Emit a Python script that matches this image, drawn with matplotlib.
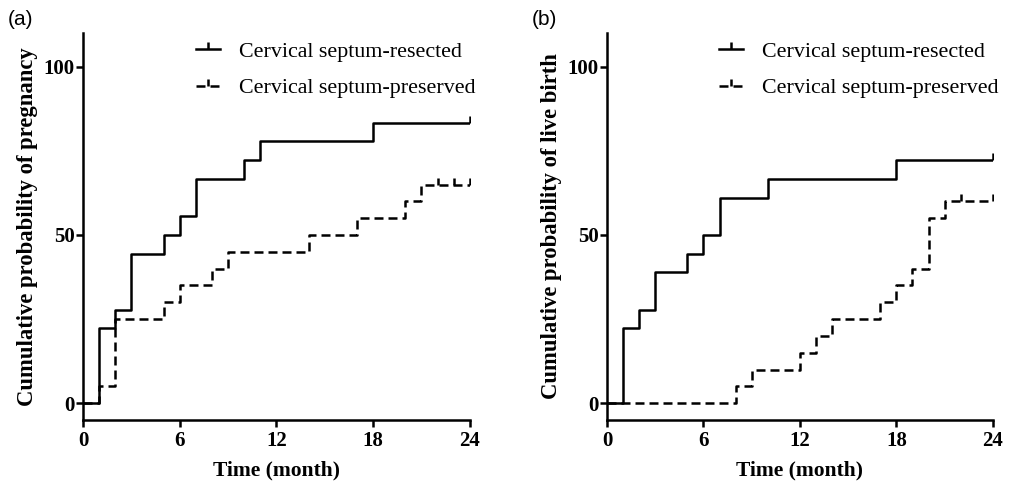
import matplotlib.pyplot as plt
import numpy as np

# time points (month) and cumulative probability (%) for each step curve
# panel (a): pregnancy
preg_res_t = [0, 1, 2, 3, 5, 6, 7, 10, 11, 18, 24]
preg_res_y = [0, 22.2, 27.8, 44.4, 50, 55.6, 66.7, 72.2, 77.8, 83.3, 83.3]
preg_pre_t = [0, 1, 2, 5, 6, 8, 9, 14, 17, 20, 21, 24]
preg_pre_y = [0, 5, 25, 30, 35, 40, 45, 50, 55, 60, 65, 65]
preg_res_cens = [24]
preg_pre_cens = [22, 23, 24]

# panel (b): live birth
live_res_t = [0, 1, 2, 3, 5, 6, 7, 10, 18, 24]
live_res_y = [0, 22.2, 27.8, 38.9, 44.4, 50, 61.1, 66.7, 72.2, 72.2]
live_pre_t = [0, 8, 9, 12, 13, 14, 17, 18, 19, 20, 21, 24]
live_pre_y = [0, 5, 10, 15, 20, 25, 30, 35, 40, 55, 60, 60]
live_res_cens = [24]
live_pre_cens = [22, 24]

xticks = [0, 6, 12, 18, 24]
yticks = [0, 50, 100]
leg_labels = ['Cervical septum-resected', 'Cervical septum-preserved']

serif = ['Liberation Serif', 'DejaVu Serif']
lw = 1.8
dash = (0, (3.6, 2.0))

fig = plt.figure(figsize=(10.1, 4.87), dpi=100)
ax1 = fig.add_axes([0.0822, 0.1376, 0.383, 0.7944])
ax2 = fig.add_axes([0.601, 0.1376, 0.382, 0.7944])


def censor_y(t_list, y_list, cens):
    # value of the step curve at each censoring time
    out = []
    for c in cens:
        idx = np.searchsorted(t_list, c, side='right') - 1
        out.append(y_list[idx])
    return out


def draw_panel(ax, rt, ry, rc, pt, py, pc, ylabel, tag):
    ax.step(pt, py, where='post', color='black', lw=lw, linestyle=dash)
    ax.step(rt, ry, where='post', color='black', lw=lw)
    ax.plot(rc, censor_y(rt, ry, rc), linestyle='none', marker=2,
            markersize=5, mew=lw, color='black')
    ax.plot(pc, censor_y(pt, py, pc), linestyle='none', marker=2,
            markersize=5, mew=lw, color='black')

    # legend handles
    h1, = ax.plot([], [], color='black', lw=lw, marker=2, markersize=5,
                  mew=lw)
    h2, = ax.plot([], [], color='black', lw=lw, linestyle=dash, marker=2,
                  markersize=5, mew=lw)
    ax.legend([h1, h2], leg_labels, loc='upper right',
              bbox_to_anchor=(1.065, 1.03), frameon=False,
              prop={'family': serif, 'size': 15.8},
              handlelength=1.1, handletextpad=0.85, labelspacing=0.75,
              numpoints=1)

    ax.set_xlim(0, 24)
    ax.set_ylim(-5, 110)
    ax.set_xticks(xticks)
    ax.set_yticks(yticks)
    ax.spines['top'].set_visible(False)
    ax.spines['right'].set_visible(False)
    for s in ['left', 'bottom']:
        ax.spines[s].set_linewidth(lw)
    ax.tick_params(width=lw, length=5, direction='out', pad=1)
    ax.tick_params(axis='x', pad=3)
    for lab in ax.get_xticklabels() + ax.get_yticklabels():
        lab.set_family(serif)
        lab.set_fontweight('bold')
        lab.set_fontsize(15)
    ax.set_xlabel('Time (month)', family=serif, fontweight='bold',
                  fontsize=15.5, labelpad=7)
    ax.set_ylabel(ylabel, family=serif, fontweight='bold', fontsize=16.3,
                  labelpad=4)
    ax.text(-0.195, 1.01, tag, transform=ax.transAxes, fontsize=15,
            family='Liberation Sans', va='bottom', ha='left')


draw_panel(ax1, preg_res_t, preg_res_y, preg_res_cens,
           preg_pre_t, preg_pre_y, preg_pre_cens,
           'Cumulative probability of pregnancy', '(a)')
draw_panel(ax2, live_res_t, live_res_y, live_res_cens,
           live_pre_t, live_pre_y, live_pre_cens,
           'Cumulative probability of live birth', '(b)')

fig.savefig('out.png', dpi=100)
